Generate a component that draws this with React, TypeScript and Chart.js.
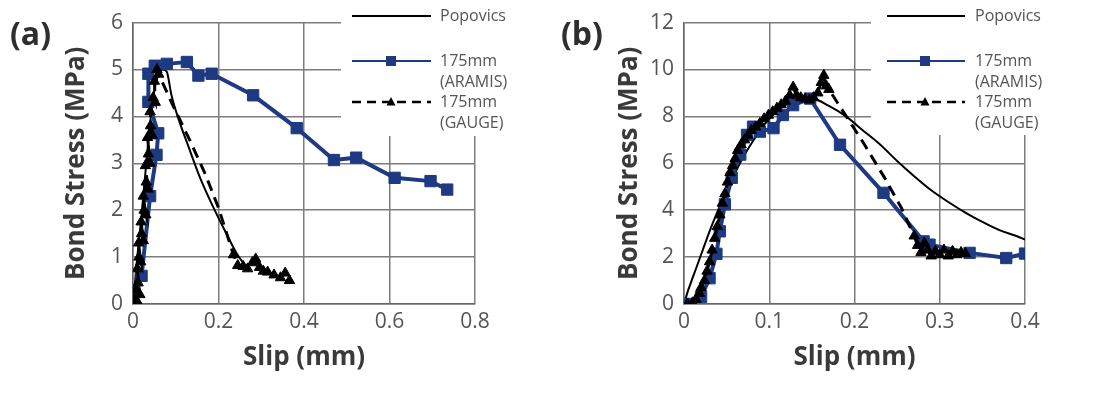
import React, { useEffect, useRef } from 'react';
import { Chart, registerables } from 'chart.js';

Chart.register(...registerables);

// ---------- shared labels ----------
const SERIES_NAMES = ['Popovics', '175mm (ARAMIS)', '175mm (GAUGE)'];
const LEGEND_LINES = [['Popovics'], ['175mm', '(ARAMIS)'], ['175mm', '(GAUGE)']];
const X_TITLE = 'Slip (mm)';
const Y_TITLE = 'Bond Stress (MPa)';
const PANEL_LABELS = ['(a)', '(b)'];

// ---------- panel (a) ----------
const A_X_TICKS = ['0', '0.2', '0.4', '0.6', '0.8'];
const A_Y_TICKS = ['0', '1', '2', '3', '4', '5', '6'];

const A_POP_X = [0, 0.005, 0.01, 0.02, 0.03, 0.04, 0.05, 0.06, 0.07, 0.079, 0.09, 0.11, 0.13, 0.157, 0.188, 0.219, 0.243, 0.26];
const A_POP_Y = [0, 0.5, 1.0, 1.9, 2.9, 3.85, 4.55, 4.9, 5.0, 4.95, 4.45, 3.85, 3.35, 2.69, 2.06, 1.49, 1.07, 0.85];

const A_ARAMIS_X = [0, 0.02, 0.04, 0.055, 0.059, 0.036, 0.036, 0.051, 0.079, 0.126, 0.153, 0.184, 0.281, 0.383, 0.47, 0.522, 0.612, 0.696, 0.735];
const A_ARAMIS_Y = [0, 0.6, 2.3, 3.18, 3.64, 4.31, 4.91, 5.08, 5.12, 5.16, 4.87, 4.91, 4.45, 3.75, 3.07, 3.12, 2.69, 2.62, 2.44];

const A_GAUGE_RISE_X = [0, 0.004, 0.01, 0.006, 0.012, 0.016, 0.01, 0.014, 0.018, 0.013, 0.02, 0.024, 0.019, 0.026, 0.03, 0.024, 0.031, 0.035, 0.029, 0.036, 0.04, 0.034, 0.041, 0.045, 0.04, 0.047, 0.052, 0.05, 0.056, 0.06];
const A_GAUGE_RISE_Y = [0, 0.1, 0.05, 0.3, 0.45, 0.2, 0.75, 1.0, 0.9, 1.3, 1.5, 1.35, 1.75, 2.0, 1.9, 2.3, 2.6, 2.45, 2.95, 3.2, 3.0, 3.55, 3.8, 3.6, 4.1, 4.4, 4.3, 4.75, 5.0, 4.9];
const A_GAUGE_FALL_X = [0.09, 0.135, 0.17, 0.2];
const A_GAUGE_FALL_Y = [4.3, 3.45, 2.75, 2.05];
const A_GAUGE_TAIL_X = [0.235, 0.245, 0.258, 0.268, 0.279, 0.287, 0.296, 0.305, 0.315, 0.33, 0.345, 0.356, 0.366];
const A_GAUGE_TAIL_Y = [1.05, 0.82, 0.8, 0.75, 0.88, 0.96, 0.78, 0.7, 0.68, 0.62, 0.56, 0.66, 0.5];

// ---------- panel (b) ----------
const B_X_TICKS = ['0', '0.1', '0.2', '0.3', '0.4'];
const B_Y_TICKS = ['0', '2', '4', '6', '8', '10', '12'];

const B_POP_X = [0, 0.005, 0.01, 0.02, 0.03, 0.04, 0.05, 0.06, 0.07, 0.08, 0.09, 0.1, 0.11, 0.12, 0.13, 0.14, 0.15, 0.17, 0.19, 0.21, 0.23, 0.25, 0.27, 0.29, 0.31, 0.33, 0.35, 0.37, 0.39, 0.4];
const B_POP_Y = [0, 0.6, 1.1, 2.1, 3.1, 4.0, 4.85, 5.6, 6.3, 6.9, 7.45, 7.9, 8.25, 8.5, 8.65, 8.75, 8.75, 8.45, 8.0, 7.4, 6.8, 6.1, 5.45, 4.85, 4.35, 3.9, 3.5, 3.15, 2.9, 2.75];

const B_ARAMIS_X = [0, 0.006, 0.02, 0.03, 0.038, 0.042, 0.048, 0.056, 0.066, 0.074, 0.081, 0.089, 0.105, 0.116, 0.128, 0.148, 0.183, 0.234, 0.281, 0.288, 0.335, 0.378, 0.4];
const B_ARAMIS_Y = [0, 0, 0.3, 1.1, 2.14, 3.1, 4.25, 5.38, 6.37, 7.21, 7.56, 7.35, 7.5, 8.06, 8.48, 8.76, 6.79, 4.74, 2.67, 2.53, 2.18, 1.96, 2.15];

const B_GAUGE_RISE_X = [0.004, 0.01, 0.014, 0.018, 0.02, 0.024, 0.027, 0.03, 0.033, 0.036, 0.039, 0.042, 0.045, 0.048, 0.051, 0.054, 0.057, 0.06, 0.063, 0.067, 0.071, 0.075, 0.079, 0.084, 0.089, 0.094, 0.099, 0.104, 0.109, 0.114, 0.119, 0.124, 0.128, 0.132, 0.137, 0.142, 0.147, 0.152, 0.157, 0.161, 0.164, 0.167, 0.17];
const B_GAUGE_RISE_Y = [0, 0.05, 0.2, 0.45, 0.7, 1.0, 1.4, 1.8, 2.3, 2.8, 3.3, 3.8, 4.3, 4.7, 5.2, 5.6, 5.9, 6.2, 6.55, 6.8, 7.0, 7.2, 7.4, 7.55, 7.7, 7.9, 8.05, 8.2, 8.35, 8.5, 8.65, 8.9, 9.25, 8.9, 8.8, 8.75, 8.7, 8.8, 9.0, 9.45, 9.75, 9.3, 9.15];
const B_GAUGE_FALL_X = [0.185, 0.21, 0.235, 0.255];
const B_GAUGE_FALL_Y = [8.3, 6.9, 5.4, 4.1];
const B_GAUGE_TAIL_X = [0.27, 0.274, 0.278, 0.282, 0.286, 0.29, 0.295, 0.3, 0.305, 0.31, 0.315, 0.32, 0.325, 0.33];
const B_GAUGE_TAIL_Y = [2.9, 2.5, 2.2, 2.6, 2.3, 2.05, 2.25, 2.1, 2.3, 2.05, 2.25, 2.1, 2.2, 2.15];

// ---------- styles ----------
const BLUE = '#1d3a82';
const GRID = '#7d7d7d';
const AXIS = '#666666';
const TICK_COLOR = '#555555';
const TITLE_COLOR = '#3a3a3a';
const FONT = '"Open Sans", "DejaVu Sans", sans-serif';

const zip = (xs: number[], ys: number[]) => xs.map((x, i) => ({ x, y: ys[i] }));

const boxLegend = {
  id: 'boxLegend',
  beforeDatasetsDraw(chart: any, _args: any, o: any) {
    const { ctx } = chart;
    ctx.save();
    ctx.fillStyle = '#ffffff';
    ctx.fillRect(o.boxLeft, 0, chart.width - o.boxLeft, o.boxBottom);
    ctx.restore();
  },
  afterDraw(chart: any, _args: any, o: any) {
    const { ctx } = chart;
    const { x0, x1, tx, mx } = o;
    const rows = [16, 61, 102];
    ctx.save();
    // Popovics
    ctx.strokeStyle = '#000';
    ctx.lineWidth = 2;
    ctx.beginPath(); ctx.moveTo(x0, rows[0]); ctx.lineTo(x1, rows[0]); ctx.stroke();
    // ARAMIS
    ctx.strokeStyle = BLUE;
    ctx.lineWidth = 2;
    ctx.beginPath(); ctx.moveTo(x0, rows[1]); ctx.lineTo(x1, rows[1]); ctx.stroke();
    ctx.fillStyle = BLUE;
    ctx.fillRect(mx - 5, rows[1] - 5, 10, 10);
    // GAUGE
    ctx.strokeStyle = '#000';
    ctx.lineWidth = 2.5;
    ctx.setLineDash([9, 6]);
    ctx.beginPath(); ctx.moveTo(x0, rows[2]); ctx.lineTo(x1, rows[2]); ctx.stroke();
    ctx.setLineDash([]);
    ctx.fillStyle = '#000';
    ctx.beginPath();
    ctx.moveTo(mx, rows[2] - 5); ctx.lineTo(mx + 4.5, rows[2] + 3.5); ctx.lineTo(mx - 4.5, rows[2] + 3.5);
    ctx.closePath(); ctx.fill();
    // texts
    ctx.font = `16px ${FONT}`;
    ctx.fillStyle = '#555555';
    ctx.textBaseline = 'middle';
    ctx.textAlign = 'left';
    ctx.fillText(LEGEND_LINES[0][0], tx, rows[0]);
    ctx.fillText(LEGEND_LINES[1][0], tx, rows[1]);
    ctx.fillText(LEGEND_LINES[1][1], tx, rows[1] + 21);
    ctx.fillText(LEGEND_LINES[2][0], tx, rows[2]);
    ctx.fillText(LEGEND_LINES[2][1], tx, rows[2] + 21);
    ctx.restore();
  },
};

type Panel = {
  xTicks: string[]; yTicks: string[];
  pop: { x: number; y: number }[];
  aramis: { x: number; y: number }[];
  gauge: { x: number; y: number }[];
  fallStart: number; fallEnd: number;
  yAxisWidth: number; padRight: number; yTitlePad: number;
  legend: any;
};

function makeConfig(p: Panel): any {
  const tickFont = { family: FONT, size: 21 };
  const titleFont = { family: FONT, size: 26, weight: 'bold' as const };
  const xVals = p.xTicks.map(Number);
  const yVals = p.yTicks.map(Number);
  return {
    type: 'line',
    data: {
      datasets: [
        {
          label: SERIES_NAMES[2],
          data: p.gauge,
          borderColor: '#000',
          backgroundColor: '#000',
          borderWidth: 3,
          borderDash: [11, 7],
          pointStyle: 'triangle',
          pointRadius: (c: any) => (c.dataIndex >= p.fallStart && c.dataIndex < p.fallEnd ? 0 : 6),
          pointBorderWidth: 1,
          pointBackgroundColor: '#000',
          pointBorderColor: '#000',
          tension: 0,
          order: 0,
        },
        {
          label: SERIES_NAMES[1],
          data: p.aramis,
          borderColor: BLUE,
          backgroundColor: BLUE,
          borderWidth: 4,
          pointStyle: 'rect',
          pointRadius: 8,
          pointBorderWidth: 1,
          pointBackgroundColor: BLUE,
          pointBorderColor: BLUE,
          tension: 0,
          order: 1,
        },
        {
          label: SERIES_NAMES[0],
          data: p.pop,
          borderColor: '#000',
          borderWidth: 2,
          pointRadius: 0,
          cubicInterpolationMode: 'monotone',
          order: 2,
        },
      ],
    },
    options: {
      responsive: false,
      animation: false,
      events: [],
      layout: { padding: { left: 0, top: 20, right: p.padRight, bottom: 0 } },
      plugins: {
        legend: { display: false },
        tooltip: { enabled: false },
        boxLegend: p.legend,
      },
      scales: {
        x: {
          type: 'linear',
          min: xVals[0],
          max: xVals[xVals.length - 1],
          afterBuildTicks: (s: any) => { s.ticks = xVals.map((v) => ({ value: v })); },
          afterFit: (s: any) => { s.height = 107; },
          ticks: {
            callback: (_v: any, i: number) => p.xTicks[i],
            font: tickFont,
            color: TICK_COLOR,
            padding: 5,
            maxRotation: 0,
            autoSkip: false,
          },
          grid: { color: GRID, lineWidth: 1.5, drawTicks: false },
          border: { color: AXIS, width: 1.5 },
          title: { display: true, text: X_TITLE, font: titleFont, color: TITLE_COLOR, padding: { top: 0, bottom: 38 } },
        },
        y: {
          type: 'linear',
          min: yVals[0],
          max: yVals[yVals.length - 1],
          afterBuildTicks: (s: any) => { s.ticks = yVals.map((v) => ({ value: v })); },
          afterFit: (s: any) => { s.width = p.yAxisWidth; },
          ticks: {
            callback: (_v: any, i: number) => p.yTicks[i],
            font: tickFont,
            color: TICK_COLOR,
            padding: 10,
            autoSkip: false,
          },
          grid: { color: GRID, lineWidth: 1.5, drawTicks: false },
          border: { color: AXIS, width: 1.5 },
          title: { display: true, text: Y_TITLE, font: titleFont, color: TITLE_COLOR, padding: { top: p.yTitlePad, bottom: 0 } },
        },
      },
    },
    plugins: [boxLegend],
  };
}

const PANEL_A: Panel = {
  xTicks: A_X_TICKS, yTicks: A_Y_TICKS,
  pop: zip(A_POP_X, A_POP_Y),
  aramis: zip(A_ARAMIS_X, A_ARAMIS_Y),
  gauge: [...zip(A_GAUGE_RISE_X, A_GAUGE_RISE_Y), ...zip(A_GAUGE_FALL_X, A_GAUGE_FALL_Y), ...zip(A_GAUGE_TAIL_X, A_GAUGE_TAIL_Y)],
  fallStart: A_GAUGE_RISE_X.length, fallEnd: A_GAUGE_RISE_X.length + A_GAUGE_FALL_X.length,
  yAxisWidth: 133, padRight: 72, yTitlePad: 61,
  legend: { boxLeft: 341, boxBottom: 136, x0: 352, x1: 431, tx: 440, mx: 391 },
};

const PANEL_B: Panel = {
  xTicks: B_X_TICKS, yTicks: B_Y_TICKS,
  pop: zip(B_POP_X, B_POP_Y),
  aramis: zip(B_ARAMIS_X, B_ARAMIS_Y),
  gauge: [...zip(B_GAUGE_RISE_X, B_GAUGE_RISE_Y), ...zip(B_GAUGE_FALL_X, B_GAUGE_FALL_Y), ...zip(B_GAUGE_TAIL_X, B_GAUGE_TAIL_Y)],
  fallStart: B_GAUGE_RISE_X.length, fallEnd: B_GAUGE_RISE_X.length + B_GAUGE_FALL_X.length,
  yAxisWidth: 137, padRight: 69, yTitlePad: 67,
  legend: { boxLeft: 324, boxBottom: 135, x0: 340, x1: 418, tx: 428, mx: 378 },
};

function PanelChart({ panel, left, label, labelLeft }: { panel: Panel; left: number; label: string; labelLeft: number }) {
  const ref = useRef<HTMLCanvasElement | null>(null);
  useEffect(() => {
    if (!ref.current) return;
    const chart = new Chart(ref.current, makeConfig(panel));
    return () => chart.destroy();
  }, [panel]);
  return (
    <div style={{ position: 'absolute', left, top: 0, width: 547, height: 411 }}>
      <canvas ref={ref} width={547} height={411} style={{ display: 'block', width: 547, height: 411 }} />
      <div
        style={{
          position: 'absolute', left: labelLeft, top: 15, fontFamily: FONT, fontWeight: 'bold',
          fontSize: 32, lineHeight: '36px', color: '#2e2e2e', whiteSpace: 'nowrap',
        }}
      >
        {label}
      </div>
    </div>
  );
}

export default function App() {
  return (
    <div style={{ position: 'absolute', left: 0, top: 0, width: 1094, height: 411, background: '#ffffff', overflow: 'hidden' }}>
      <PanelChart panel={PANEL_A} left={0} label={PANEL_LABELS[0]} labelLeft={10} />
      <PanelChart panel={PANEL_B} left={547} label={PANEL_LABELS[1]} labelLeft={14} />
    </div>
  );
}
